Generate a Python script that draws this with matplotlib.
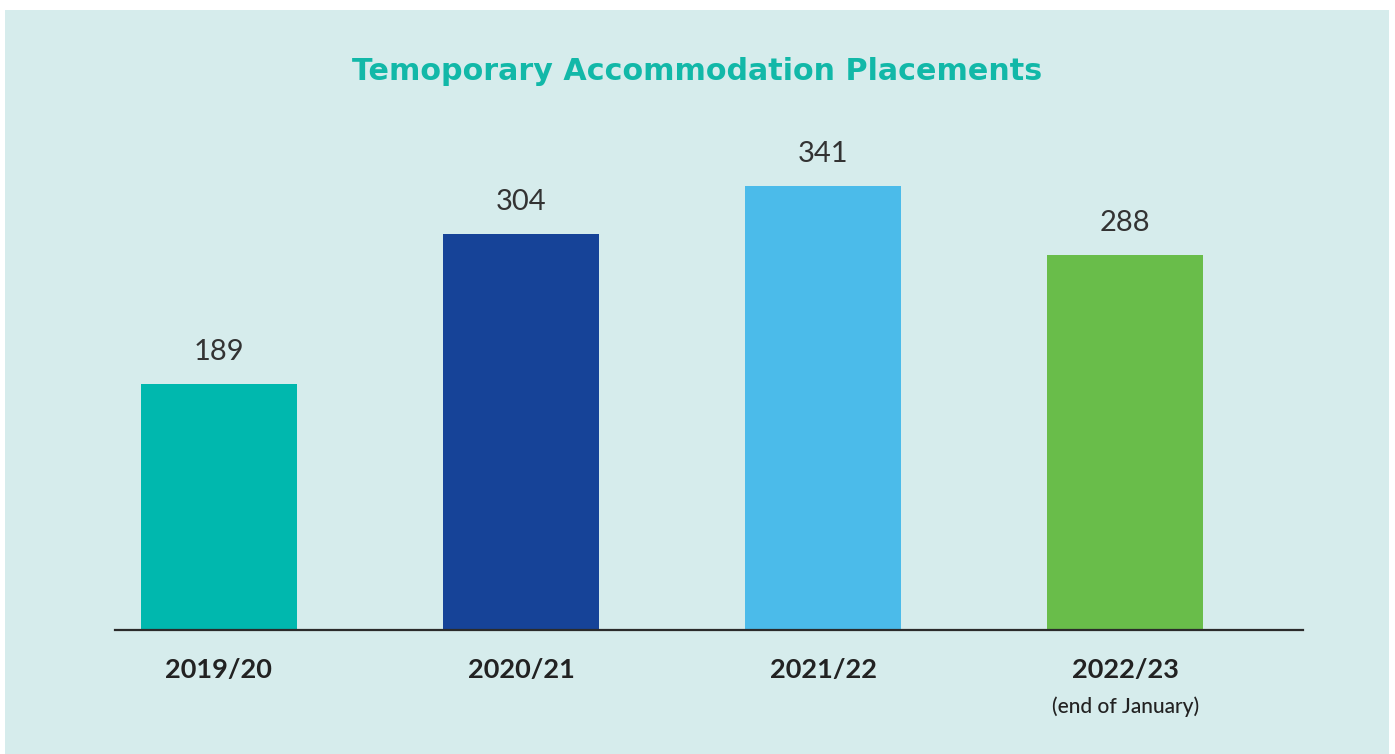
import matplotlib.pyplot as plt
import matplotlib.patches as patches

# data
years = ["2019/20", "2020/21", "2021/22", "2022/23"]
placements = [189, 304, 341, 288]
bar_colors = ["#00b8ae", "#164398", "#4bbbea", "#69bd4a"]
title = "Temoporary Accommodation Placements"
note = "(end of January)"

W, H = 1395, 754
fig = plt.figure(figsize=(W / 100, H / 100), dpi=100)
fig.patch.set_facecolor("white")

# light teal panel
panel = patches.Rectangle((5 / W, 0), (1389 - 5) / W, (H - 10) / H,
                          transform=fig.transFigure, facecolor="#d6ecec",
                          edgecolor="none", zorder=-1)
fig.patches.append(panel)

# axes placed in pixel terms: x 115..1303, y 120..630
ax = fig.add_axes([115 / W, (H - 630) / H, (1303 - 115) / W, (630 - 120) / H])
ax.set_facecolor("none")
ax.set_zorder(1)

x = list(range(len(years)))
ax.bar(x, placements, width=0.517, color=bar_colors, zorder=2)
ax.set_xlim(-0.344, 3.588)
ax.set_ylim(0, 392)

for xi, v in zip(x, placements):
    ax.annotate(str(v), (xi, v), xytext=(0, 14), textcoords="offset points",
                ha="center", va="bottom", fontsize=21, color="#333333",
                family="Lato")

for s in ["top", "right", "left"]:
    ax.spines[s].set_visible(False)
ax.spines["bottom"].set_color("#2b2b2b")
ax.spines["bottom"].set_linewidth(1.6)
ax.set_yticks([])
ax.set_xticks(x)
ax.set_xticklabels(years, fontsize=19.5, color="#222222", family="Lato",
                   fontweight="bold")
ax.tick_params(axis="x", length=0, pad=20)

# note under last category
ax.annotate(note, (3, 0), xytext=(0, -55), textcoords="offset points",
            ha="center", va="center", fontsize=15, color="#222222",
            family="Lato", fontweight="medium")

fig.text(697 / W, 1 - 72 / H, title, ha="center", va="center",
         fontsize=21.7, fontweight="bold", color="#12b8a8", family="DejaVu Sans")

plt.savefig("out.png", dpi=100)
